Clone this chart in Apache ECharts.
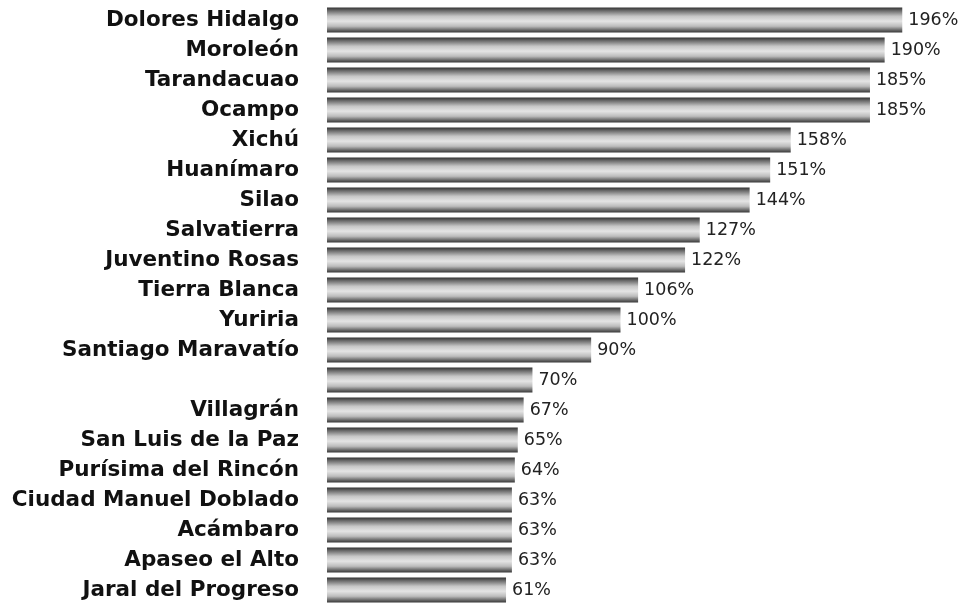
<!DOCTYPE html>
<html>
<head>
<meta charset="utf-8">
<title>Municipios</title>
<script src="https://cdn.jsdelivr.net/npm/echarts@6/dist/echarts.min.js"></script>
<style>
  html, body { margin: 0; padding: 0; background: #fff; }
  #chart { width: 968px; height: 606px; }
</style>
</head>
<body>
<div id="chart"></div>
<script>
  // municipios, de mayor a menor
  var municipios = [
    'Dolores Hidalgo', 'Moroleón', 'Tarandacuao', 'Ocampo', 'Xichú',
    'Huanímaro', 'Silao', 'Salvatierra', 'Juventino Rosas', 'Tierra Blanca',
    'Yuriria', 'Santiago Maravatío', '', 'Villagrán', 'San Luis de la Paz',
    'Purísima del Rincón', 'Ciudad Manuel Doblado', 'Acámbaro', 'Apaseo el Alto', 'Jaral del Progreso'
  ]
  var porcentajes = [196, 190, 185, 185, 158, 151, 144, 127, 122, 106, 100, 90, 70, 67, 65, 64, 63, 63, 63, 61]

  var chart = echarts.init(document.getElementById('chart'))

  var barFill = new echarts.graphic.LinearGradient(0, 0, 0, 1, [
    { offset: 0, color: '#333333' },
    { offset: 0.12, color: '#676767' },
    { offset: 0.35, color: '#c6c6c6' },
    { offset: 0.55, color: '#e4e4e4' },
    { offset: 0.75, color: '#bcbcbc' },
    { offset: 0.9, color: '#6a6a6a' },
    { offset: 1, color: '#383838' }
  ])

  chart.setOption({
    animation: false,
    grid: {
      left: 327,
      right: 54,
      top: 5,
      bottom: 1
    },
    xAxis: {
      type: 'value',
      min: 0,
      max: 200,
      show: false
    },
    yAxis: {
      type: 'category',
      inverse: true,
      data: municipios,
      axisLine: { show: false },
      axisTick: { show: false },
      splitLine: { show: false },
      axisLabel: {
        margin: 28,
        color: '#111',
        fontFamily: 'DejaVu Sans',
        fontWeight: 'bold',
        fontSize: 21.5,
        padding: [5, 0, 0, 0]
      }
    },
    series: [
      {
        type: 'bar',
        data: porcentajes,
        barWidth: 25,
        itemStyle: {
          color: barFill
        },
        label: {
          show: true,
          position: 'right',
          distance: 6,
          formatter: '{c}%',
          color: '#222',
          fontFamily: 'DejaVu Sans',
          fontSize: 17.5
        }
      }
    ]
  })
</script>
</body>
</html>
